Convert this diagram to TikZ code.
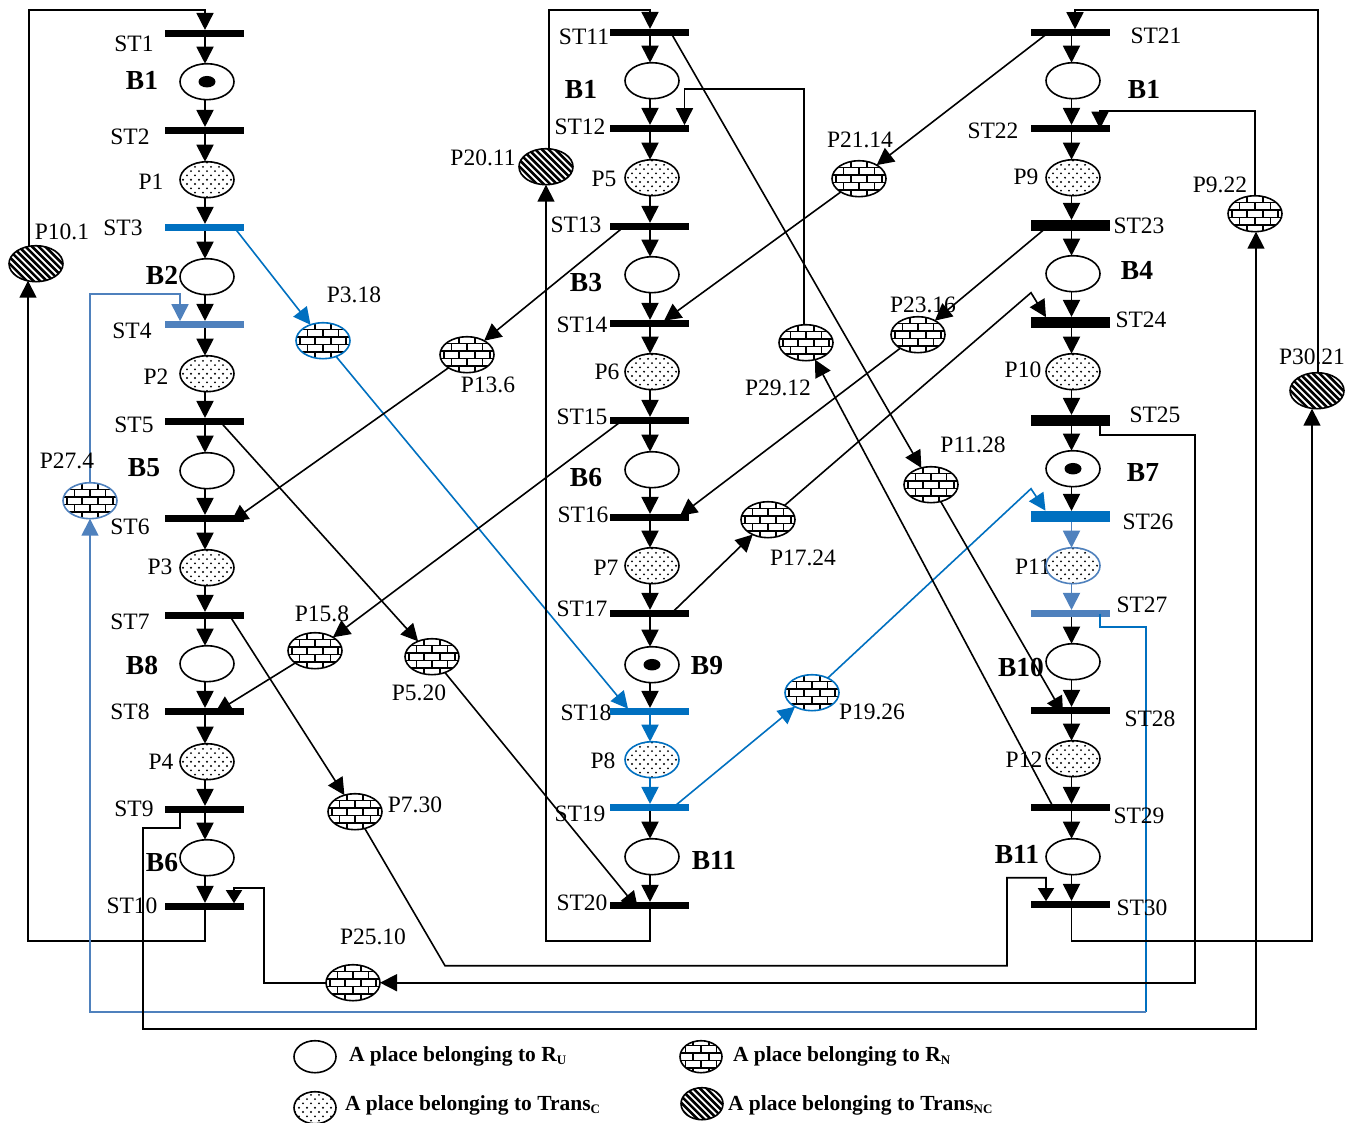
\documentclass[tikz,border=0pt]{standalone}
\usepackage{fontspec}
\setmainfont{Liberation Serif}
\usetikzlibrary{arrows.meta,shapes.geometric}
\definecolor{bluea}{HTML}{0070C0}
\definecolor{blueb}{HTML}{4F81BD}
\newcommand\mybrickfill{%
  \begin{scope}[shift={(path picture bounding box.center)},line width=1.7pt]
    \foreach \r in {-3,...,2}{
      \draw[black] (-30,\r*7.5+3.75)--(30,\r*7.5+3.75);
      \pgfmathsetmacro\s{mod(abs(\r),2)*7.75}
      \foreach \k in {-2,...,2}
        \draw[black] (\k*15.5+\s,\r*7.5+3.75)--(\k*15.5+\s,\r*7.5+11.25);
    }
    \draw[black] (-30,-26.25)--(30,-26.25);
  \end{scope}}
\newcommand\mystripefill{%
  \begin{scope}[shift={(path picture bounding box.center)},line width=2.6pt]
    \foreach \k in {-10,...,10}
      \draw[black] (\k*6.6-30,-30)--(\k*6.6+30,30);
  \end{scope}}
\newcommand\mydotfill{%
  \begin{scope}[shift={(path picture bounding box.center)}]
    \foreach \r in {-5,...,5}{
      \pgfmathsetmacro\s{mod(abs(\r),2)*4}
      \foreach \k in {-4,...,4}
        \fill[black] (\k*8+\s,\r*4.3) circle (1.05);
    }
  \end{scope}}
\tikzset{
  x=1pt,y=-1pt,
  place/.style={ellipse,draw,fill=white,line width=1.6pt,minimum width=54pt,minimum height=36pt,inner sep=0pt,outer sep=0pt},
  dotted place/.style={place,path picture={\mydotfill}},
  brick place/.style={place,path picture={\mybrickfill}},
  stripe place/.style={place,path picture={\mystripefill}},
  token/.style={ellipse,fill=black,minimum width=17pt,minimum height=11.5pt,inner sep=0pt,outer sep=0pt},
  bar/.style={rectangle,fill=black,minimum width=79pt,minimum height=7.5pt,inner sep=0pt,outer sep=0pt},
  barT/.style={bar,minimum height=11.5pt},
  barA/.style={bar,fill=bluea},
  barAT/.style={barT,fill=bluea},
  barB/.style={bar,fill=blueb},
  lnk/.style={line width=1.6pt,draw=black},
  arr/.style={lnk,-{Triangle[length=17pt,width=17pt]}},
  arrshort/.style={lnk,-{Triangle[length=13pt,width=16pt]}},
  arrmain/.style={arr,line width=1.9pt},
  lbl/.style={inner sep=0pt,outer sep=0pt,font=\fontsize{23.5}{26}\selectfont},
  blbl/.style={inner sep=0pt,outer sep=0pt,font=\fontsize{27.5}{30}\selectfont\bfseries},
  legtext/.style={inner sep=0pt,outer sep=0pt,anchor=west,font=\fontsize{21.5}{24}\selectfont\bfseries},
  legplace/.style={minimum width=42pt,minimum height=32pt}
}
\newcommand\lsub[1]{\raisebox{-2.5pt}{\fontsize{13}{13}\selectfont #1}}
\begin{document}
\begin{tikzpicture}
\fill[white] (0,0) rectangle (1359,1122);
\useasboundingbox (0,0) rectangle (1359,1122);
\begin{scope}[yshift=-0.7pt]
% label partly hidden by its place
\node[lbl] (labhid) at (1033,566) {P11};
% transitions
\foreach \n/\y in {1/33,2/130,5/421,6/518,7/615,8/711,9/809,10/906}
  \node[bar] (st\n) at (204,\y) {};
\node[barA] (st3) at (204,227) {};
\node[barB] (st4) at (204,324) {};
\foreach \n/\y in {11/32,12/128,13/226,14/323,15/420,16/517,17/613,20/905}
  \node[bar] (st\n) at (649,\y) {};
\node[barA] (st18) at (649,711) {};
\node[barA] (st19) at (649,807) {};
\foreach \n/\y in {21/32,22/128,28/710,29/807,30/904}
  \node[bar] (st\n) at (1070.5,\y) {};
\foreach \n/\y in {23/225,24/322,25/420}
  \node[barT] (st\n) at (1070.5,\y) {};
\node[barAT] (st26) at (1070.5,516) {};
\node[barB] (st27) at (1070.5,613) {};
% places of the three columns
\foreach \n/\x/\y in {u1/207/81,u2/207/276,u5/207/470,u8/207/663,u6/207/857,m1/652/80,m3/652/274,m6/652/469,m9/652/664,m11/652/856,r1/1073/80,r4/1073/273,r7/1073/468,r10/1073/661,r11/1073/856}
  \node[place] (\n) at (\x,\y) {};
\foreach \n/\x/\y in {p1/207/179,p2/207/373,p3/207/567,p4/207/761,p5/652/177,p6/652/371,p7/652/565,p9/1073/177,p10/1073/371,p12/1073/758}
  \node[dotted place] (\n) at (\x,\y) {};
\node[dotted place,draw=bluea] (p8) at (652,759) {};
\node[dotted place,draw=blueb] (p11) at (1073,565) {};
% side places
\foreach \n/\x/\y in {q136/467/354,q158/315/650,q520/432/656,q730/355/811,q2510/353/982,q2114/859/178,q2912/806/342,q2316/918/334,q1724/768/519,q1128/931/484,q922/1255/213}
  \node[brick place] (\n) at (\x,\y) {};
\node[brick place,draw=bluea] (q318) at (323,340) {};
\node[brick place,draw=bluea] (q1926) at (812,692) {};
\node[brick place,draw=blueb] (q274) at (90,500) {};
\foreach \n/\x/\y in {q101/36/263,q2011/546/166,q3021/1317/390}
  \node[stripe place] (\n) at (\x,\y) {};
% tokens
\node[token] (tok1) at (u1.center) {};
\node[token] (tok2) at (m9.center) {};
\node[token] (tok3) at (r7.center) {};
% column arcs
\foreach \s/\p/\e in {st1/u1/st2,st2/p1/st3,st3/u2/st4,st4/p2/st5,st5/u5/st6,st6/p3/st7,st7/u8/st8,st8/p4/st9,st9/u6/st10,st11/m1/st12,st12/p5/st13,st13/m3/st14,st14/p6/st15,st15/m6/st16,st16/p7/st17,st17/m9/st18,st19/m11/st20,st21/r1/st22,st22/p9/st23,st23/r4/st24,st24/p10/st25,st25/r7/st26,st27/r10/st28,st28/p12/st29,st29/r11/st30}{
  \draw[arrmain] ([xshift=1pt]\s.south) -- ([xshift=1pt]\s.south |- \p.north);
  \draw[arrmain] ([xshift=1pt]\e.north |- \p.south) -- ([xshift=1pt]\e.north);
}
\draw[arrmain,draw=bluea,fill=bluea] ([xshift=1pt]st18.south) -- ([xshift=1pt]st18.south |- p8.north);
\draw[arrmain,draw=bluea,fill=bluea] ([xshift=1pt]st19.north |- p8.south) -- ([xshift=1pt]st19.north);
\draw[arrmain,draw=blueb,fill=blueb] ([xshift=1pt]st26.south) -- ([xshift=1pt]st26.south |- p11.north);
\draw[arrmain,draw=blueb,fill=blueb] ([xshift=1pt]st27.north |- p11.south) -- ([xshift=1pt]st27.north);
% left feedback
\draw[arr] ([xshift=1pt]st10.center) -- ++(0,34) -| ([shift={(-8,17)}]q101.center);
\draw[arr] ([shift={(-7,-17)}]q101.center) -- ++(0,-237) -| ([xshift=1pt]st1.north);
% blue arcs
\draw[arr,draw=bluea] ([shift={(32,2)}]st3.center) -- (q318);
\draw[arr,draw=bluea] (q318) -- ([shift={(-21,-3)}]st18.center);
\draw[arr,draw=bluea] ([shift={(25,-1)}]st19.center) -- (q1926);
\draw[arr,draw=bluea] (q1926) -- ++(219,-204) -- ([shift={(-25,-6)}]st26.center);
\draw[arr,draw=blueb] (q274.north) -- ++(0,-189) -| ([shift={(-24,-3.5)}]st4.center);
\draw[lnk,draw=bluea] ([shift={(29.5,0)}]st27.center) -- ++(0,13) -- ++(46,0) -- ++(0,385) coordinate (c27);
\draw[arr,draw=blueb] (c27) -| (q274.south);
% black diagonals
\draw[arr] ([shift={(18,2)}]st5.center) -- (q520);
\draw[arr] (q520) -- ([shift={(-11,3)}]st20.center);
\draw[arr] (q136) -- ([shift={(27,3)}]st6.center);
\draw[arr] ([shift={(-25,0)}]st13.center) -- (q136);
\draw[arr] ([shift={(-27,0)}]st15.center) -- (q158);
\draw[arr] (q158) -- ([shift={(11,1)}]st8.center);
\draw[arr] ([shift={(27,2)}]st7.center) -- (q730);
\draw[arrshort] (q730) -- ++(90,154) -- ++(562,0) -- ++(0,-88) -| ([shift={(-24.5,-3.5)}]st30.center);
\draw[arr] ([shift={(-24,2)}]st9.center) -- ++(0,16) -- ++(-37,0) -- ++(0,201) -| ([xshift=1pt]q922.south);
\draw[arr] (q922.north) -- ++(0,-85) -| ([shift={(29.5,0)}]st22.center);
\draw[arr] ([shift={(29.5,5)}]st25.center) -- ++(0,9) -- ++(95,0) |- (q2510.east);
\draw[arrshort] (q2510.west) -- ++(-62,0) -- ++(0,-95) -| ([shift={(30,-3.5)}]st10.center);
\draw[arr] ([xshift=1pt]st20.center) -- ++(0,35) -| (q2011.south);
\draw[arr] ([shift={(3,-18)}]q2011.center) -- ++(0,-139) -| ([xshift=1pt]st11.north);
\draw[arr] ([shift={(23,2)}]st11.center) -- (q1128);
\draw[arr] (q1128) -- ([shift={(-7.5,3)}]st28.center);
\draw[arr] ([shift={(-23.5,1)}]st21.center) -- (q2114);
\draw[arr] (q2114) -- ([shift={(15,-3)}]st14.center);
\draw[arr] ([shift={(-25.5,3)}]st23.center) -- (q2316);
\draw[arr] (q2316) -- ([shift={(31,-2)}]st16.center);
\draw[arr] ([shift={(23,-1)}]st17.center) -- (q1724);
\draw[arr] (q1724) -- ++(263,-227) -- ([shift={(-24.5,-5.5)}]st24.center);
\draw[arr] ([shift={(-2,0)}]q2912.north) -- ++(0,-236) -| ([shift={(35.5,-3.5)}]st12.center);
\draw[arr] ([shift={(-17.5,-1)}]st29.center) -- (q2912);
\draw[arr] ([xshift=1pt]st30.center) -- ++(0,36) -| ([shift={(-5,18)}]q3021.center);
\draw[arr] ([shift={(1,-18)}]q3021.center) -- ++(0,-363) -| ([shift={(4.5,-3.5)}]st21.center);
% labels
\foreach \t/\x/\y [count=\n] in {ST1/134/43,ST2/130/136,P1/151/181,ST3/123/227,P10.1/62/231,P3.18/354/294,ST4/132/330,P2/156/376,P13.6/488/384,ST5/134/424,P27.4/67/460,ST6/130/526,P3/160/566,P15.8/322/613,ST7/130/621,P5.20/419/692,ST8/130/711,P4/161/761,P7.30/415/804,ST9/134/808,ST10/132/905,P25.10/373/936,ST11/584/36,ST12/580/126,P5/604/178,P20.11/483/157,ST13/576/224,ST14/582/324,P6/607/371,ST15/582/416,ST16/583/514,P7/606/567,ST17/582/608,ST18/586/712,P8/603/760,ST19/580/813,ST20/582/902,P21.14/860/139,P29.12/778/387,P23.16/923/304,P17.24/803/557,P11.28/973/444,P19.26/872/711,ST21/1156/35,ST22/993/130,P9/1026/176,P9.22/1220/184,ST23/1139/225,ST24/1141/319,P10/1023/369,P30.21/1312/356,ST25/1155/414,ST26/1148/521,ST27/1142/604,ST28/1150/718,P12/1024/759,ST29/1139/815,ST30/1142/907}
  \node[lbl] (lab\n) at (\x,\y) {\t};
\foreach \t/\x/\y [count=\n] in {B1/142/80,B2/162/275,B5/144/467,B8/142/665,B6/162/862,B1/581/89,B3/586/282,B6/586/477,B9/707/665,B11/714/860,B1/1144/89,B4/1137/270,B7/1143/472,B10/1021/667,B11/1017/854}
  \node[blbl] (blab\n) at (\x,\y) {\t};
% legend
\node[place,legplace] (leg1) at (315,1056) {};
\node[dotted place,legplace] (leg2) at (315,1107) {};
\node[brick place,legplace] (leg3) at (701,1056) {};
\node[stripe place,legplace] (leg4) at (702,1103) {};
\node[legtext] (legt1) at (349,1056) {A place belonging to R\lsub{U}};
\node[legtext] (legt2) at (345,1105) {A place belonging to Trans\lsub{C}};
\node[legtext] (legt3) at (733,1056) {A place belonging to R\lsub{N}};
\node[legtext] (legt4) at (728,1105) {A place belonging to Trans\lsub{NC}};
\end{scope}
\end{tikzpicture}
\end{document}
